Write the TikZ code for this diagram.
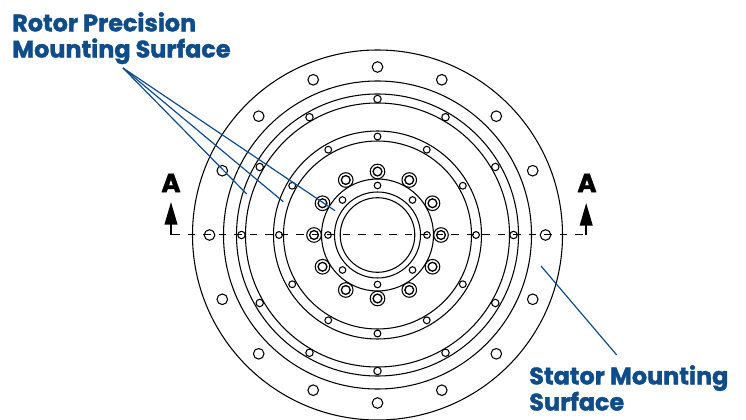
\documentclass[tikz,border=0pt]{standalone}
\usepackage{fontspec}
\setmainfont{Poppins}[BoldFeatures={FakeBold=1.6}]
\usetikzlibrary{arrows.meta,calc}
\definecolor{leadblue}{HTML}{0F4C8A}
\tikzset{
  ringline/.style={draw=black,line width=0.8pt},
  leader/.style={draw=leadblue,line width=0.9pt},
  callout/.style={text=leadblue,font=\bfseries\fontsize{17.9}{19.6}\selectfont,align=left,anchor=north west,inner sep=0pt},
  seclabel/.style={text=black,font=\bfseries\fontsize{19.5}{20}\selectfont,inner sep=0pt},
  secarrow/.style={draw=black,line width=1.5pt,-{Triangle[length=17pt,width=9.5pt]},shorten >=0pt},
  cutline/.style={draw=black,line width=0.8pt,dash pattern=on 5.5pt off 6.125pt}
}
\begin{document}
\begin{tikzpicture}[x=0.75pt,y=-0.75pt]
\useasboundingbox (0,0) rectangle (746,420);
\coordinate (c) at (377.5,235);
% rings
\foreach \r in {185,154,141,132,104,94,56,43,37.3}
  \draw[ringline] (c) circle[radius=\r*0.75pt];
% outer flange holes
\foreach \a in {0,22.5,...,337.5}
  \draw[ringline] ($(c)+(\a:168*0.75pt)$) circle[radius=5.3*0.75pt];
% middle ring holes
\foreach \a in {0,30,...,330}
  \draw[ringline] ($(c)+(\a:136*0.75pt)$) circle[radius=3.7*0.75pt];
% inner ring holes
\foreach \a in {0,30,...,330}
  \draw[ringline] ($(c)+(\a:98.5*0.75pt)$) circle[radius=3.4*0.75pt];
% counterbored bolts
\foreach \a in {0,30,...,330}{
  \draw[ringline] ($(c)+(\a:63.5*0.75pt)$) circle[radius=7.3*0.75pt];
  \draw[ringline,line width=1pt] ($(c)+(\a:63.5*0.75pt)$) circle[radius=4.4*0.75pt];
}
% hub holes
\foreach \a in {0,45,...,315}
  \draw[ringline] ($(c)+(\a:49.5*0.75pt)$) circle[radius=3.3*0.75pt];
% cutting plane
\coordinate (cutL) at (172.3,234.6);
\coordinate (cutR) at (583,234.6);
\draw[cutline] (cutL) -- (cutR);
\coordinate (stemL) at (171,234.8);
\coordinate (stemR) at (586.2,234.8);
\coordinate (tipL) at (171,202);
\coordinate (tipR) at (586.2,203);
\draw[secarrow] (stemL) -- (tipL);
\draw[secarrow] (stemR) -- (tipR);
\node[seclabel] (aL) at (171,183) {A};
\node[seclabel] (aR) at (587,183) {A};
% labels
\node[callout] (rotor) at (12,12) {Rotor Precision\\Mounting Surface};
\node[callout] (stator) at (529,365) {Stator Mounting\\Surface};
% leaders
\coordinate (apex) at (123,68);
\coordinate (r1) at (246.7,194);
\coordinate (r2) at (283.3,201.7);
\coordinate (r3) at (335,210.7);
\draw[leader] (apex) -- (r1);
\draw[leader] (apex) -- (r2);
\draw[leader] (apex) -- (r3);
\coordinate (s0) at (616.7,355);
\coordinate (s1) at (541,266);
\draw[leader] (s0) -- (s1);
\end{tikzpicture}
\end{document}
